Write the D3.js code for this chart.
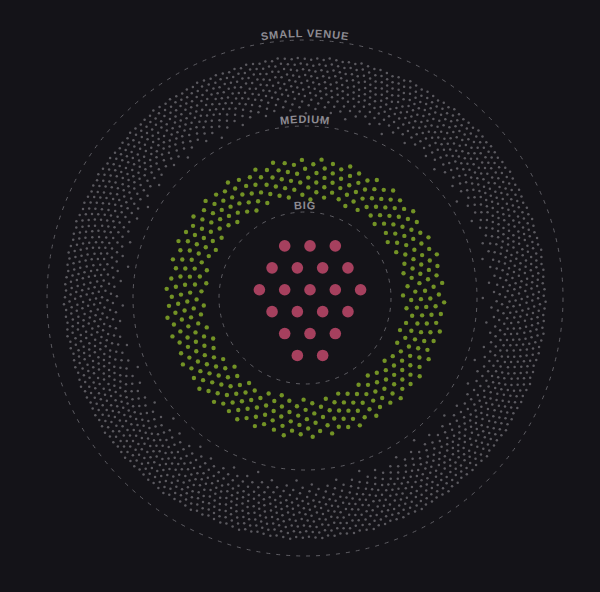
<!DOCTYPE html>
<html>
<head>
<meta charset="utf-8">
<script src="https://cdn.jsdelivr.net/npm/d3@7"></script>
<style>
  html, body { margin: 0; padding: 0; background: #141318; }
  svg { display: block; }
</style>
</head>
<body>
<svg id="chart" width="600" height="592"></svg>
<script>
// ---- data ----
const categories = ["BIG", "MEDIUM", "SMALL VENUE"];
const venueCounts = [21, 380, 2000];
const categoryColors = ["#a6405e", "#789a26", "#8a898f"];

// ---- layout ----
const W = 600, H = 592;
const cx = 305, cy = 298;
const outerR = 258;

const svg = d3.select("#chart");
svg.append("rect").attr("width", W).attr("height", H).attr("fill", "#141318");
const g = svg.append("g").attr("transform", `translate(${cx},${cy})`);

// each category owns a ring band [y(cat), y(cat)+bandwidth]
const ring = d3.scaleBand().domain(categories).range([0, outerR]).paddingInner(0);
const color = d3.scaleOrdinal().domain(categories).range(categoryColors);
const dotR = d3.scaleOrdinal().domain(categories).range([5.8, 2.2, 1.25]);
const dotOpacity = d3.scaleOrdinal().domain(categories).range([1, 0.95, 0.6]);
const collideR = d3.scaleOrdinal().domain(categories).range([12, 4.7, 3.1]);
const bandCentre = d3.scaleOrdinal().domain(categories).range([0, 0.38, 0.37]);

// dashed boundary circles + curved labels
const defs = svg.append("defs");
categories.forEach((c, i) => {
  const r = ring(c) + ring.bandwidth();
  g.append("circle")
    .attr("r", r)
    .attr("fill", "none")
    .attr("stroke", "#5e5d63")
    .attr("stroke-width", 1)
    .attr("stroke-dasharray", "4,6");
  const lr = r + 3;
  defs.append("path")
    .attr("id", "lab" + i)
    .attr("d", `M${cx - lr},${cy} A${lr},${lr} 0 0 1 ${cx + lr},${cy}`);
  svg.append("text")
    .attr("font-family", "Liberation Sans, Arial, sans-serif")
    .attr("font-weight", "bold")
    .attr("font-size", 11)
    .attr("letter-spacing", 0.8)
    .attr("fill", "#8d8b92")
    .append("textPath")
    .attr("href", "#lab" + i)
    .attr("startOffset", "50%")
    .attr("text-anchor", "middle")
    .text(c);
});

// hexagonal packing for the innermost category
function hexPoints(n, s) {
  const cand = [];
  const rows = 8;
  for (let j = -rows; j <= rows; j++) {
    for (let k = -rows; k <= rows; k++) {
      const x = (k + (Math.abs(j) % 2) * 0.5) * s;
      const y = j * s * Math.sqrt(3) / 2;
      cand.push([x, y]);
    }
  }
  cand.sort((a, b) => {
    const da = Math.round(Math.hypot(a[0], a[1]) * 100);
    const db = Math.round(Math.hypot(b[0], b[1]) * 100);
    if (da !== db) return da - db;
    if (Math.round(b[1]) !== Math.round(a[1])) return b[1] - a[1];
    return Math.abs(a[0]) - Math.abs(b[0]);
  });
  const pts = cand.slice(0, n);
  const mx = d3.mean(pts, p => p[0]), my = d3.mean(pts, p => p[1]);
  return pts.map(p => [p[0] - mx + 5, p[1] - my - 2]);
}

// force layout (radial band + collision) for the outer categories
function ringPoints(c, n) {
  const R = ring(c) + ring.bandwidth() * bandCentre(c);
  const nodes = d3.range(n).map(() => ({}));
  const sim = d3.forceSimulation(nodes)
    .force("radial", d3.forceRadial(R, 0, 0).strength(0.03))
    .force("collide", d3.forceCollide(collideR(c)).strength(0.9))
    .stop();
  for (let t = 0; t < 300; t++) sim.tick();
  return nodes.map(d => [d.x, d.y]);
}

const nodes = [];
categories.forEach((c, i) => {
  const pts = i === 0 ? hexPoints(venueCounts[i], 25.3) : ringPoints(c, venueCounts[i]);
  pts.forEach(p => nodes.push({ cat: c, x: p[0], y: p[1] }));
});

g.append("g").selectAll("circle")
  .data(nodes.slice().reverse())
  .join("circle")
  .attr("cx", d => d.x)
  .attr("cy", d => d.y)
  .attr("r", d => dotR(d.cat))
  .attr("fill", d => color(d.cat))
  .attr("fill-opacity", d => dotOpacity(d.cat));
</script>
</body>
</html>
